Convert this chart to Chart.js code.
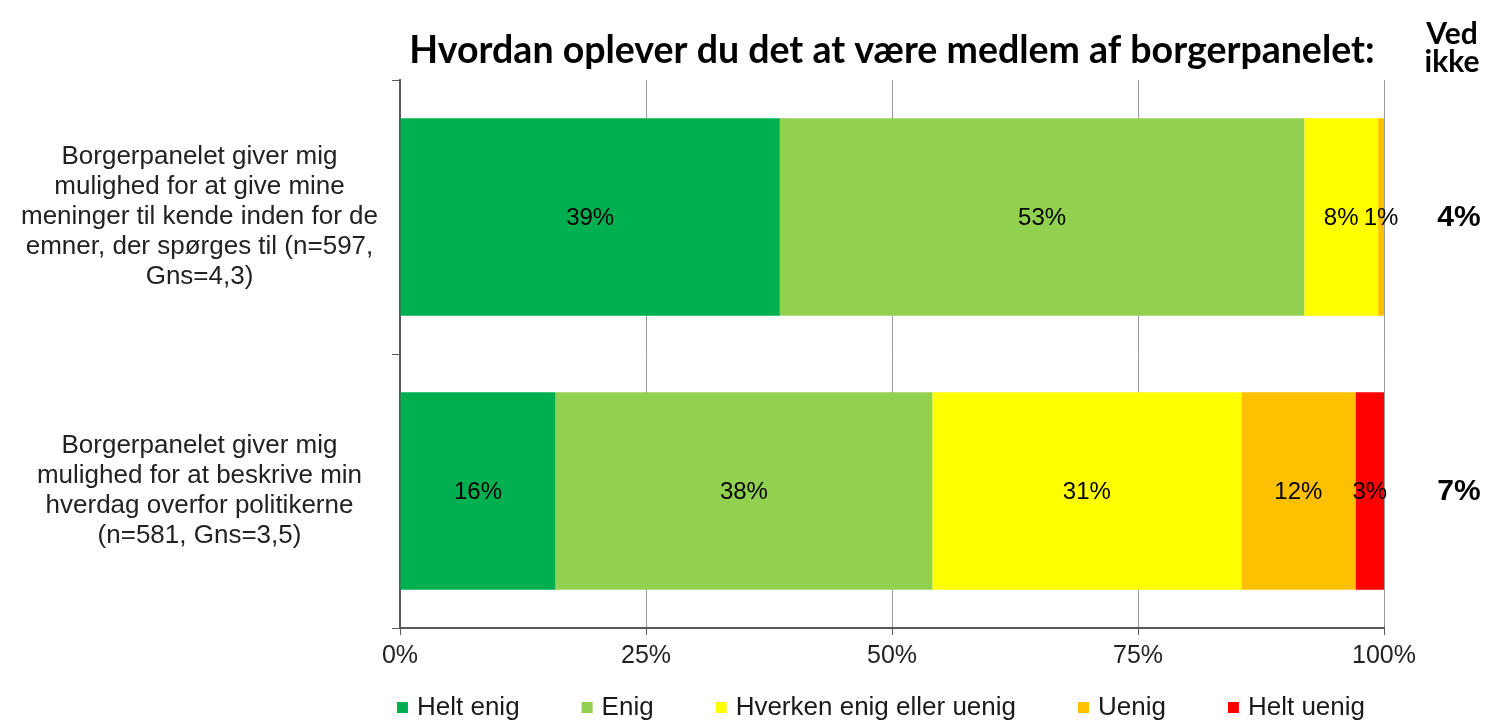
<!DOCTYPE html>
<html>
<head>
<meta charset="utf-8">
<script src="https://cdn.jsdelivr.net/npm/chart.js@4"></script>
<style>
  body { margin: 0; background: #fff; }
  #wrap { width: 1493px; height: 721px; }
</style>
</head>
<body>
<div id="wrap"><canvas id="chart"></canvas></div>
<script>
var categories = [
    ["Borgerpanelet giver mig", "mulighed for at give mine", "meninger til kende inden for de", "emner, der spørges til (n=597,", "Gns=4,3)"],
    ["Borgerpanelet giver mig", "mulighed for at beskrive min", "hverdag overfor politikerne", "(n=581, Gns=3,5)"]
];
var seriesNames = ["Helt enig", "Enig", "Hverken enig eller uenig", "Uenig", "Helt uenig"];
var heltEnig = [38.6, 15.8];
var enig = [53.3, 38.3];
var hverken = [7.5, 31.4];
var uenig = [0.6, 11.6];
var heltUenig = [0, 2.9];
var vedIkke = [4, 7];
var xTicks = [0, 25, 50, 75, 100];
var titleText = "Hvordan oplever du det at være medlem af borgerpanelet:";

var colours = ["#00B050", "#92D050", "#FFFF00", "#FFC000", "#FF0000"];
var FONT = '"Liberation Sans", Arial, sans-serif';
var BOLD = 'Lato, "Liberation Sans", sans-serif';

var extras = {
    id: "extras",
    afterDatasetsDraw: function (chart) {
        var ctx = chart.ctx;
        ctx.save();
        ctx.font = "24px " + FONT;
        ctx.fillStyle = "#000";
        ctx.textAlign = "center";
        ctx.textBaseline = "middle";
        chart.data.datasets.forEach(function (ds, di) {
            var meta = chart.getDatasetMeta(di);
            meta.data.forEach(function (bar, i) {
                var v = ds.data[i];
                if (!v) return;
                ctx.fillText(Math.round(v) + "%", (bar.x + bar.base) / 2, bar.y + 1);
            });
        });
        ctx.restore();
    },
    afterDraw: function (chart) {
        var ctx = chart.ctx, area = chart.chartArea, yScale = chart.scales.y;
        ctx.save();
        // "Ved ikke" column
        ctx.fillStyle = "#000";
        ctx.textAlign = "center";
        ctx.textBaseline = "middle";
        ctx.font = "bold 30px " + BOLD;
        ctx.fillText("Ved", 1452, 34);
        ctx.fillText("ikke", 1452, 62);
        ctx.font = "bold 30px " + FONT;
        for (var i = 0; i < vedIkke.length; i++) {
            ctx.fillText(vedIkke[i] + "%", 1459, yScale.getPixelForValue(i) + 1);
        }
        // legend
        ctx.font = "26px " + FONT;
        ctx.textAlign = "left";
        var box = 11, boxGap = 9, itemGap = 62, y = 707;
        var total = 0;
        seriesNames.forEach(function (n, i) {
            total += box + boxGap + ctx.measureText(n).width + (i ? itemGap : 0);
        });
        var x = (area.left + area.right) / 2 - 11 - total / 2;
        seriesNames.forEach(function (n, i) {
            ctx.fillStyle = colours[i];
            ctx.fillRect(x, y - 5, box, box);
            ctx.fillStyle = "#1a1a1a";
            ctx.fillText(n, x + box + boxGap, y + 1);
            x += box + boxGap + ctx.measureText(n).width + itemGap;
        });
        ctx.restore();
    }
};

var seriesData = [heltEnig, enig, hverken, uenig, heltUenig];
var datasets = seriesNames.map(function (name, i) {
    return {
        label: name,
        data: seriesData[i],
        backgroundColor: colours[i],
        borderWidth: 0,
        barPercentage: 0.72,
        categoryPercentage: 1.0
    };
});

new Chart(document.getElementById("chart").getContext("2d"), {
    type: "bar",
    data: { labels: categories, datasets: datasets },
    plugins: [extras],
    options: {
        indexAxis: "y",
        responsive: true,
        maintainAspectRatio: false,
        animation: false,
        layout: { padding: { top: 0, right: 109, left: 0, bottom: 0 } },
        plugins: {
            legend: { display: false },
            tooltip: { enabled: false },
            title: {
                display: true,
                text: titleText,
                fullSize: false,
                color: "#000",
                font: { family: BOLD, size: 37.5, weight: "bold", lineHeight: 1.2 },
                padding: { top: 28, bottom: 7 }
            }
        },
        scales: {
            x: {
                stacked: true,
                min: 0,
                max: 100,
                afterBuildTicks: function (scale) {
                    scale.ticks = xTicks.map(function (v) { return { value: v }; });
                },
                afterFit: function (scale) { scale.height = 93; },
                grid: { color: "#9a9a9a", lineWidth: 1, tickLength: 7, tickColor: "#595959" },
                border: { display: true, color: "#595959", width: 2 },
                ticks: {
                    color: "#222",
                    font: { family: FONT, size: 25 },
                    padding: 6,
                    maxRotation: 0,
                    callback: function (v) { return v + "%"; }
                }
            },
            y: {
                stacked: true,
                afterFit: function (scale) { scale.width = 400; },
                grid: { offset: true, drawOnChartArea: false, tickLength: 8, tickColor: "#595959" },
                border: { display: true, color: "#595959", width: 2 },
                ticks: {
                    color: "#222",
                    font: { family: FONT, size: 26, lineHeight: 1.15 },
                    crossAlign: "center",
                    padding: 14
                }
            }
        }
    }
});
</script>
</body>
</html>
